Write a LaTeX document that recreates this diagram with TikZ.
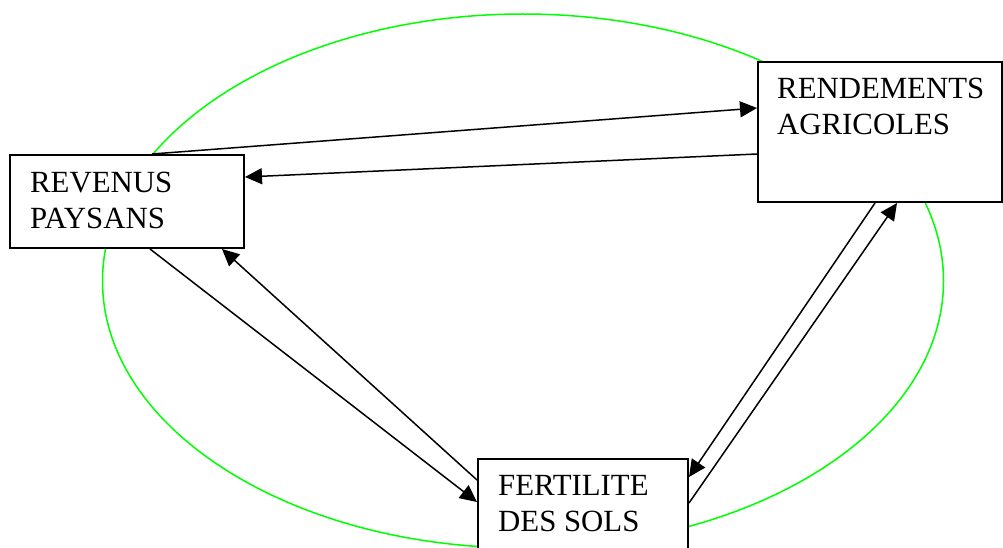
\documentclass[tikz,border=0pt]{standalone}
\usepackage{fontspec}
\setmainfont{Liberation Serif}
\usepackage{tikz}
\usetikzlibrary{arrows.meta,calc}
\definecolor{cyclecol}{RGB}{0,255,0}
\tikzset{
  % box of a variable
  boite/.style={rectangle, draw=black, fill=white, line width=2pt, inner sep=0pt, anchor=north west},
  % text inside a box
  texte/.style={inner sep=0pt, anchor=north west, align=left, font=\fontsize{30.8}{36}\selectfont},
  % influence arrow
  fleche/.style={-{Triangle[length=17pt,width=16pt]}, line width=1.5pt, black},
  % green cycle
  cycle/.style={draw=cyclecol, line width=1.5pt},
}
\begin{document}
\begin{tikzpicture}[x=1pt,y=-1pt]
  \clip (0,0) rectangle (1003,548);
  \draw[cycle] (523,281) ellipse [x radius=420.5pt, y radius=267pt];

  % boxes
  \node[boite, minimum width=234pt, minimum height=93pt] (revenus) at (9,154) {};
  \node[boite, minimum width=244pt, minimum height=140pt] (rendements) at (757,61) {};
  \node[boite, minimum width=210pt, minimum height=120pt] (fertilite) at (477,458) {};
  \node[texte] (revenustxt) at (30,172) {REVENUS\\PAYSANS};
  \node[texte] (rendementstxt) at (777,78) {RENDEMENTS\\AGRICOLES};
  \node[texte] (fertilitetxt) at (498,475) {FERTILITE\\DES SOLS};

  % arrows
  \draw[fleche] ($(revenus.north west)+(143,0)$) -- ($(rendements.north west)+(0,47)$);
  \draw[fleche] ($(rendements.north west)+(0,93)$) -- ($(revenus.north east)+(0,23)$);
  \draw[fleche] ($(revenus.south west)+(141,0)$) -- ($(fertilite.north west)+(0,44)$);
  \draw[fleche] ($(fertilite.north west)+(0,22)$) -- ($(revenus.south west)+(213,0)$);
  \draw[fleche] ($(rendements.south west)+(118,0)$) -- ($(fertilite.north east)+(0,19)$);
  \draw[fleche] ($(fertilite.north east)+(0,45)$) -- ($(rendements.south west)+(140,0)$);
\end{tikzpicture}
\end{document}
